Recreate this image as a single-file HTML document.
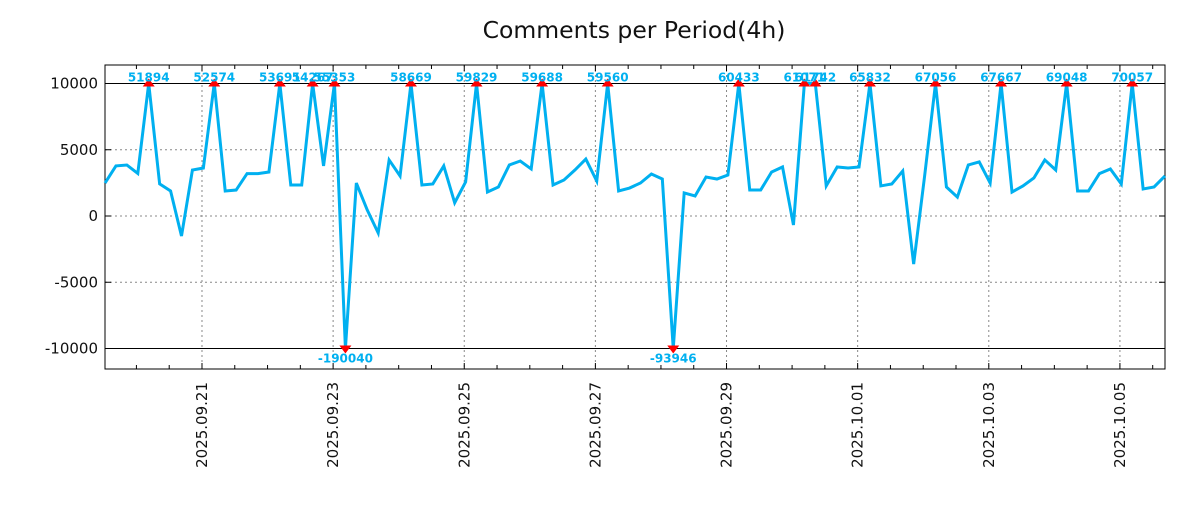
<!DOCTYPE html>
<html><head><meta charset="utf-8"><style>
body{margin:0;background:#fff;}
svg text{font-family:"DejaVu Sans","Liberation Sans",sans-serif;}
</style></head><body>
<svg id="chart" width="1200" height="500" xmlns="http://www.w3.org/2000/svg">
<text x="634" y="38" text-anchor="middle" font-size="23.5" fill="#111">Comments per Period(4h)</text>
<g id="grid"></g><g id="axes"></g><g id="series"></g><g id="marks"></g>
</svg>
<script>
const values=[2490,3780,3850,3210,51894,2420,1890,-1510,3470,3620,
52574,1890,1960,3200,3200,3320,53691,2340,2340,54267,
3780,55353,-190040,2490,450,-1280,4230,3020,58669,2340,
2420,3780,1000,2570,59829,1810,2190,3850,4150,3550,
59688,2340,2720,3470,4300,2640,59560,1890,2110,2490,
3170,2790,-93946,1740,1510,2940,2790,3090,60433,1960,
1960,3320,3700,-680,61071,61742,2270,3700,3620,3700,
65832,2270,2420,3400,-3630,3000,67056,2190,1430,3850,
4080,2490,67667,1810,2270,2870,4230,3470,69048,1890,
1890,3200,3550,2420,70057,2040,2190,3020];
const yTicks=[10000,5000,0,-5000,-10000];
const dateLabels=["2025.09.21","2025.09.23","2025.09.25","2025.09.27","2025.09.29","2025.10.01","2025.10.03","2025.10.05"];
const startHour=12.5, stepHour=4, clipMax=10000, clipMin=-10000;
const L=105,R=1165,T=65,B=369;
const H0=startHour, H1=startHour+stepHour*(values.length-1);
const X=h=>L+(h-H0)/(H1-H0)*(R-L);
const Y=v=>216-v*0.01325;
const NS="http://www.w3.org/2000/svg";
function mk(tag,attrs,parent,txt){const e=document.createElementNS(NS,tag);for(const k in attrs)e.setAttribute(k,attrs[k]);if(txt!==undefined)e.textContent=txt;document.getElementById(parent).appendChild(e);return e;}
yTicks.forEach(v=>{
 const solid=Math.abs(v)===10000;
 const g=mk('line',{x1:L,x2:R,y1:Y(v),y2:Y(v),stroke:solid?'#000':'#888','stroke-width':1,'stroke-dasharray':solid?'':'2,3'},'grid');
 
 
 const t=mk('text',{x:98,y:Y(v)+5,'text-anchor':'end','font-size':15,fill:'#111'},'axes',String(v));
 
 
 mk('line',{x1:L,x2:L+6,y1:Y(v),y2:Y(v),stroke:'#000'},'axes');
 mk('line',{x1:R-6,x2:R,y1:Y(v),y2:Y(v),stroke:'#000'},'axes');
});
dateLabels.forEach((d,i)=>{
 const x=X(48+48*i);
 const g=mk('line',{x1:x,x2:x,y1:T,y2:B,stroke:'#888','stroke-dasharray':'2,3'},'grid');
 
 
 const t=mk('text',{x:0,y:0,transform:`translate(${x+5},382) rotate(-90)`,'text-anchor':'end','font-size':15,fill:'#111'},'axes',d);
 
 
});
for(let h=24;h<=H1;h+=12){const x=X(h);if(x<L||x>R)continue;const maj=(h%48===0);
 mk('line',{x1:x,x2:x,y1:B,y2:B-(maj?6:4),stroke:'#000'},'axes');
 mk('line',{x1:x,x2:x,y1:T,y2:T+(maj?6:4),stroke:'#000'},'axes');}
const frame=mk('rect',{x:L,y:T,width:R-L,height:B-T,fill:'none',stroke:'#000'},'axes');


const pts=values.map((v,i)=>[X(H0+stepHour*i),Y(Math.max(clipMin,Math.min(clipMax,v)))]);
const line=mk('polyline',{points:pts.map(p=>p.join(',')).join(' '),fill:'none',stroke:'#00b0f0','stroke-width':3,'stroke-linejoin':'miter'},'series');


values.forEach((v,i)=>{
 if(v<=clipMax&&v>=clipMin)return;
 const x=pts[i][0],y=pts[i][1],up=v>clipMax;
 const tri=mk('polygon',{points:up?`${x-6},${y+3} ${x+6},${y+3} ${x},${y-5}`:`${x-6},${y-3} ${x+6},${y-3} ${x},${y+5}`,fill:'#f00'},'marks');
 
 
 const t=mk('text',{x:x,y:up?y-2:y+14,'text-anchor':'middle','font-size':12,'font-weight':'bold','font-family':'Liberation Mono, monospace',fill:'#00b0f0'},'marks',String(v));
 
 
});
</script>
</body></html>
